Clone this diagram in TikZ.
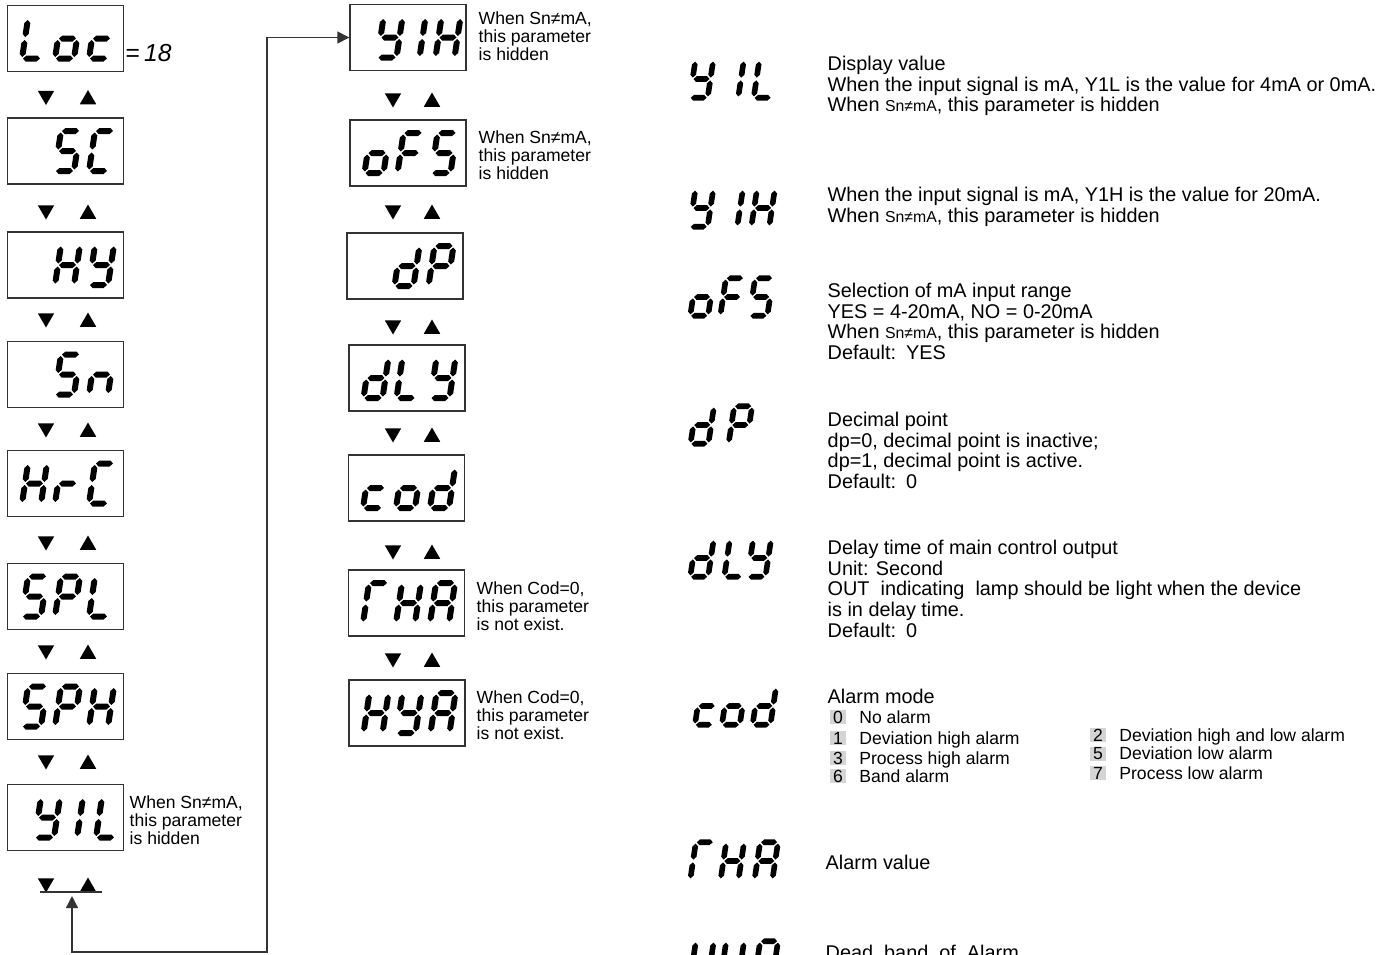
\documentclass[tikz,border=0pt]{standalone}
\usepackage{fontspec}
\setmainfont{Liberation Sans}
\usetikzlibrary{arrows.meta, positioning, shapes.geometric}
\definecolor{cline}{HTML}{333333}
\definecolor{cnum}{HTML}{D4D4D4}
\tikzset{
  every picture/.style={x=0.02cm, y=-0.02cm, line width=0.8pt},
  lcdbox/.style={draw=cline, minimum width=2.32cm, minimum height=1.32cm, inner sep=0pt},
  triup/.style={regular polygon, regular polygon sides=3, fill=black, inner sep=0pt, minimum size=0.38cm},
  tridown/.style={triup, shape border rotate=180},
  note/.style={font=\fontsize{10}{10.3}\selectfont, align=left, anchor=north west, inner sep=0pt},
  desc/.style={font=\fontsize{11.3}{11.9}\selectfont, align=left, anchor=north west, inner sep=0pt},
  item/.style={font=\fontsize{10}{12}\selectfont, anchor=base west, inner sep=0pt},
  numbox/.style={fill=cnum, minimum width=0.32cm, minimum height=0.28cm, inner sep=0pt, font=\fontsize{10}{12}\selectfont},
  arrow/.style={{Triangle[length=0.24cm,width=0.24cm]}-{Triangle[length=0.24cm,width=0.24cm]}, draw=cline},
}
% one segment of a display digit
\newcommand{\hseg}[3]{\fill (#1,#3) -- (#1+3,#3-3) -- (#2-3,#3-3) -- (#2,#3) -- (#2-3,#3+3) -- (#1+3,#3+3) -- cycle;}
\newcommand{\vseg}[3]{\fill (#1,#2) -- (#1+3,#2+3) -- (#1+3,#3-3) -- (#1,#3) -- (#1-3,#3-3) -- (#1-3,#2+3) -- cycle;}
\newcommand{\lcda}{\hseg{-8.5}{8.5}{-20}}
\newcommand{\lcdb}{\vseg{9.5}{-18.5}{-1.5}}
\newcommand{\lcdc}{\vseg{9.5}{1.5}{18.5}}
\newcommand{\lcdd}{\hseg{-8.5}{8.5}{20}}
\newcommand{\lcde}{\vseg{-9.5}{1.5}{18.5}}
\newcommand{\lcdf}{\vseg{-9.5}{-18.5}{-1.5}}
\newcommand{\lcdg}{\hseg{-8.5}{8.5}{0}}
% a word on the display: position, scale, offset/segments
\newcommand{\lcdword}[3]{%
  \begin{scope}[shift={#1}, scale=#2]
    \foreach \dx/\sg in {#3} {
      \begin{scope}[shift={(\dx,0)}, xslant=0.15]
        \foreach \s in \sg {\csname lcd\s\endcsname}
      \end{scope}
    }
  \end{scope}}
\newcommand{\snma}{{\fontsize{9}{10}\selectfont Sn≠mA}}

\begin{document}
\begin{tikzpicture}
  \useasboundingbox (0,0) rectangle (1393,954);
  \clip (0,0) rectangle (1393,954);
  % first column
  \foreach \n/\y in {loc/38.5, sc/151, hy/265, sn/374.5, hrc/483.5, spl/596.5, sph/706.5, yil/817.5}
    \node[lcdbox] (\n) at (65.5,\y) {};
  \foreach \y [count=\i] in {97.5, 212, 320, 430, 543, 652, 762, 885} {
    \node[tridown] (ld\i) at (46,\y-2) {};
    \node[triup] (lu\i) at (88,\y+2) {};
  }
  \lcdword{(loc.center)}{1}{-31/{d,e,f}, 2/{c,d,e,g}, 36/{d,e,g}}
  \lcdword{(sc.center)}{1}{2/{a,c,d,f,g}, 36/{a,d,e,f}}
  \lcdword{(hy.center)}{1}{2/{b,c,e,f,g}, 36/{b,c,d,f,g}}
  \lcdword{(sn.center)}{1}{2/{a,c,d,f,g}, 36/{c,e,g}}
  \lcdword{(hrc.center)}{1}{-31/{b,c,e,f,g}, 2/{e,g}, 36/{a,d,e,f}}
  \lcdword{(spl.center)}{1}{-31/{a,c,d,f,g}, 2/{a,b,e,f,g}, 36/{d,e,f}}
  \lcdword{(sph.center)}{1}{-31/{a,c,d,f,g}, 2/{a,b,e,f,g}, 36/{b,c,e,f,g}}
  \lcdword{(yil.center)}{1}{-18/{b,c,d,f,g}, 5/{b,c}, 43/{d,e,f}}
  \node[anchor=west, inner sep=0pt, font=\fontsize{14}{14}\selectfont] (lock) at (125,53) {=\,\textit{18}};
  \node[note] (nyil) at (129,795) {When Sn≠mA,\\this parameter\\is hidden};
  \coordinate (barL) at (40,892);
  \coordinate (barR) at (102,892);
  \coordinate (retin) at (72,896);
  \coordinate (retturn) at (267,952);
  \draw[cline] (barL) -- (barR);

  % second column
  \foreach \n/\x/\y in {yih/408/37.5, ofs/408/153, dp/405/266, dly/407/378, cod/406.5/488, rha/406.5/603, hya/407/713}
    \node[lcdbox] (\n) at (\x,\y) {};
  \foreach \y [count=\i] in {100, 212, 327, 435, 552, 660} {
    \node[tridown] (md\i) at (393,\y-2) {};
    \node[triup] (mu\i) at (432,\y+2) {};
  }
  \lcdword{(yih.center)}{1}{-18/{b,c,d,f,g}, 5/{b,c}, 40/{b,c,e,f,g}}
  \lcdword{(ofs.center)}{1}{-31/{c,d,e,g}, 2/{a,e,f,g}, 36/{a,c,d,f,g}}
  \lcdword{(dp.center)}{1}{2/{b,c,d,e,g}, 36/{a,b,e,f,g}}
  \lcdword{(dly.center)}{1}{-31/{b,c,d,e,g}, 2/{d,e,f}, 36/{b,c,d,f,g}}
  \lcdword{(cod.center)}{1}{-31/{d,e,g}, 2/{c,d,e,g}, 36/{b,c,d,e,g}}
  \lcdword{(rha.center)}{1}{-31/{a,e,f}, 2/{b,c,e,f,g}, 36/{a,b,c,e,f,g}}
  \lcdword{(hya.center)}{1}{-31/{b,c,e,f,g}, 2/{b,c,d,f,g}, 36/{a,b,c,e,f,g}}
  \node[note] (nyih) at (478,11) {When Sn≠mA,\\this parameter\\is hidden};
  \node[note] (nofs) at (478,130) {When Sn≠mA,\\this parameter\\is hidden};
  \node[note] (nrha) at (476,581) {When Cod=0,\\this parameter\\is not exist.};
  \node[note] (nhya) at (476,690) {When Cod=0,\\this parameter\\is not exist.};
  \draw[arrow] (retin) |- (retturn) |- (yih.west);

  % descriptions
  \foreach \n/\y in {gyil/79, gyih/208, gofs/297, gdp/425, gdly/558, gcod/706, grha/861, ghya/960}
    \coordinate (\n) at (733,\y);
  \lcdword{(gyil)}{0.94}{-33.5/{b,c,d,f,g}, -1/{b,c}, 34.5/{d,e,f}}
  \lcdword{(gyih)}{0.94}{-33.5/{b,c,d,f,g}, -2/{b,c}, 32/{b,c,e,f,g}}
  \lcdword{(gofs)}{0.94}{-33/{c,d,e,g}, -1/{a,e,f,g}, 30/{a,c,d,f,g}}
  \lcdword{(gdp)}{0.94}{-32.7/{b,c,d,e,g}, 7.8/{a,b,e,f,g}}
  \lcdword{(gdly)}{0.94}{-33/{b,c,d,e,g}, 3.2/{d,e,f}, 28/{b,c,d,f,g}}
  \lcdword{(gcod)}{0.94}{-28/{d,e,g}, 0.7/{c,d,e,g}, 33.3/{b,c,d,e,g}}
  \lcdword{(grha)}{0.94}{-33/{a,e,f}, -0.7/{b,c,e,f,g}, 35.4/{a,b,c,e,f,g}}
  \lcdword{(ghya)}{0.94}{-33/{b,c,e,f,g}, -0.7/{b,c,d,f,g}, 35.4/{a,b,c,e,f,g}}
  \node[desc] (dyil) at (827,55) {Display value\\When the input signal is mA, Y1L is the value for 4mA or 0mA.\\When \snma, this parameter is hidden};
  \node[desc] (dyih) at (827,186) {When the input signal is mA, Y1H is the value for 20mA.\\When \snma, this parameter is hidden};
  \node[desc] (dofs) at (827,282) {Selection of mA input range\\YES = 4-20mA, NO = 0-20mA\\When \snma, this parameter is hidden\\Default:\enspace YES};
  \node[desc] (ddp) at (827,411) {Decimal point\\dp=0, decimal point is inactive;\\dp=1, decimal point is active.\\Default:\enspace 0};
  \node[desc] (ddly) at (827,539) {Delay time of main control output\\Unit: Second\\OUT\ \ indicating\ \ lamp should be light when the device\\is in delay time.\\Default:\enspace 0};
  \node[desc] (dcod) at (827,688) {Alarm mode};
  \node[desc] (drha) at (825,854) {Alarm value};
  \node[desc] (dhya) at (825,944) {Dead\ \ band\ \ of\ \ Alarm};
  \foreach \v/\t/\x/\y in {0/No alarm/838/717, 1/Deviation high alarm/838/738, 3/Process high alarm/838/758, 6/Band alarm/838/776,
                           2/Deviation high and low alarm/1098/735, 5/Deviation low alarm/1098/754, 7/Process low alarm/1098/773} {
    \node[numbox] (n\v) at (\x,\y) {\v};
    \node[item] (t\v) at ([xshift=0.24cm]n\v.base east) {\t};
  }
\end{tikzpicture}
\end{document}
